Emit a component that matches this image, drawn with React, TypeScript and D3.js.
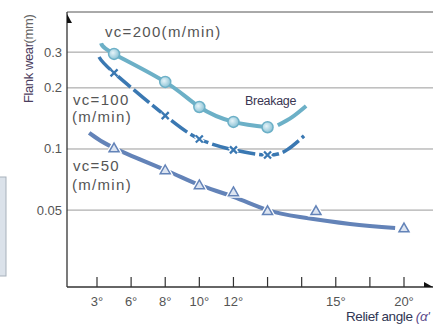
import React from 'react';
import * as d3 from 'd3';

// x positions are in tick-slot units (the chart's angle axis is not linear)
const xTickLabels = ['3°', '6°', '8°', '10°', '12°', '', '', '15°', '', '20°'];
const yTicks = [0.3, 0.2, 0.1, 0.05];

// vc=200 (m/min)
const v200MarkX = [0.5, 2, 3, 4, 5];
const v200MarkY = [0.294, 0.214, 0.161, 0.136, 0.128];
const v200LineX = [0.12, 0.5, 2, 3, 4, 5];
const v200LineY = [0.332, 0.294, 0.214, 0.161, 0.136, 0.128];
const v200BreakX = [5.3, 5.72, 6.13];
const v200BreakY = [0.131, 0.1437, 0.163];

// vc=100 (m/min)
const v100MarkX = [0.5, 2, 3, 4, 5];
const v100MarkY = [0.237, 0.146, 0.112, 0.099, 0.0934];
const v100LineX = [0.06, 0.5, 2, 3, 4, 5, 5.57, 6.07];
const v100LineY = [0.284, 0.237, 0.146, 0.112, 0.099, 0.0934, 0.099, 0.116];

// vc=50 (m/min)
const v50MarkX = [0.5, 2, 3, 4, 5, 6.42, 9];
const v50MarkY = [0.101, 0.0788, 0.0665, 0.0614, 0.0496, 0.0496, 0.0408];
const v50LineX = [-0.23, 0.5, 2, 3, 4, 5, 5.95, 7.42, 8.74];
const v50LineY = [0.12, 0.101, 0.0788, 0.0665, 0.0581, 0.05, 0.0462, 0.0427, 0.0408];

const W = 433;
const H = 326;
const left = 67;
const top = 12;
const bottom = 287;

const zip = (xs: number[], ys: number[]) => xs.map((x, i) => [x, ys[i]] as [number, number]);

export default function App() {
  const x = d3.scaleLinear().domain([0, 9]).range([97, 404]);
  const y = d3.scaleLog().domain([0.0209, 0.473]).range([bottom, top]);

  const line = d3
    .line<[number, number]>()
    .x(d => x(d[0]))
    .y(d => y(d[1]))
    .curve(d3.curveNatural);

  const c200 = '#6cb0c7';
  const c100 = '#3a78b2';
  const c50 = '#6383b8';
  const font = '"Liberation Sans", Arial, sans-serif';

  const tri = (cx: number, cy: number) => {
    const s = 5;
    return `M${cx},${cy - s}L${cx + s},${cy + s * 0.75}L${cx - s},${cy + s * 0.75}Z`;
  };

  return (
    <svg width={W} height={H} style={{ position: 'absolute', left: 0, top: 0, background: '#fff' }}>
      <defs>
        <radialGradient id="ball" cx="0.4" cy="0.4" r="0.6">
          <stop offset="0" stopColor="#e6f4f9" />
          <stop offset="1" stopColor="#8cc3d6" />
        </radialGradient>
      </defs>

      {/* side panel fragment */}
      <rect x={-2} y={177} width={8} height={99} fill="#dbe2ea" stroke="#a7b1bb" />

      {/* grid */}
      {yTicks.map(t => (
        <line key={t} x1={left} x2={W} y1={y(t)} y2={y(t)} stroke="#9a9a9a" strokeWidth={1} />
      ))}
      <line x1={left} x2={W} y1={top} y2={top} stroke="#555" strokeWidth={1} />

      {/* axes */}
      <line x1={left} x2={left} y1={top} y2={bottom} stroke="#333" strokeWidth={1.3} />
      <line x1={left} x2={W} y1={bottom} y2={bottom} stroke="#333" strokeWidth={1.3} />
      <path d={`M${left},${top + 2}L${left + 5},${top + 11}L${left},${top + 11}Z`} fill="#111" />
      <path d={`M${W - 9},${bottom - 5}L${W},${bottom}L${W - 9},${bottom}Z`} fill="#111" />

      {xTickLabels.map((t, i) => (
        <g key={i}>
          <line x1={x(i)} x2={x(i)} y1={bottom} y2={bottom - 10} stroke="#333" strokeWidth={1.2} />
          <text x={x(i)} y={306} textAnchor="middle" fontFamily={font} fontSize={13} fill="#555">
            {t}
          </text>
        </g>
      ))}
      {yTicks.map(t => (
        <text key={t} x={62} y={y(t) + 4.5} textAnchor="end" fontFamily={font} fontSize={13} fill="#555">
          {t}
        </text>
      ))}

      {/* curves */}
      <path d={line(zip(v50LineX, v50LineY)) || ''} fill="none" stroke={c50} strokeWidth={4} />
      <path d={line(zip(v100LineX, v100LineY)) || ''} fill="none" stroke={c100} strokeWidth={3.5} strokeDasharray="20,4" />
      <path d={line(zip(v200LineX, v200LineY)) || ''} fill="none" stroke={c200} strokeWidth={4} />
      <path d={line(zip(v200BreakX, v200BreakY)) || ''} fill="none" stroke={c200} strokeWidth={4} />

      {/* markers */}
      {zip(v50MarkX, v50MarkY).map((d, i) => (
        <g key={i}>
          <path d={tri(x(d[0]), y(d[1]))} fill="none" stroke="#fff" strokeWidth={4} />
          <path d={tri(x(d[0]), y(d[1]))} fill="#dce4f1" stroke={c50} strokeWidth={1.5} />
        </g>
      ))}
      {zip(v100MarkX, v100MarkY).map((d, i) => {
        const cx = x(d[0]);
        const cy = y(d[1]);
        const s = 3.5;
        return (
          <g key={i}>
            <path d={`M${cx - s},${cy - s}L${cx + s},${cy + s}M${cx + s},${cy - s}L${cx - s},${cy + s}`} stroke="#fff" strokeWidth={5} />
            <path d={`M${cx - s},${cy - s}L${cx + s},${cy + s}M${cx + s},${cy - s}L${cx - s},${cy + s}`} stroke={c100} strokeWidth={2.3} />
          </g>
        );
      })}
      {zip(v200MarkX, v200MarkY).map((d, i) => (
        <circle key={i} cx={x(d[0])} cy={y(d[1])} r={5.5} fill="url(#ball)" stroke={c200} strokeWidth={1.5} />
      ))}

      {/* labels */}
      <g fontFamily={font} fontSize={15} fill="#555">
        <text x={105} y={37} letterSpacing={1.3}>vc=200(m/min)</text>
        <text x={73} y={105} letterSpacing={1.3}>vc=100</text>
        <text x={72} y={122} letterSpacing={1.3}>(m/min)</text>
        <text x={73} y={171} letterSpacing={1.3}>vc=50</text>
        <text x={72} y={190} letterSpacing={1.3}>(m/min)</text>
      </g>
      <text x={245} y={105} fontFamily={font} fontSize={12.5} fill="#3a3652" letterSpacing={-0.3}>
        Breakage
      </text>

      <text transform="translate(33,103) rotate(-90)" fontFamily={font} fontSize={13} letterSpacing={-0.4}>
        <tspan fill="#4b3d5e">Flank wear</tspan>
        <tspan fill="#666">(mm)</tspan>
      </text>
      <text x={346} y={321} fontFamily={font} fontSize={13.5} letterSpacing={-0.4}>
        <tspan fill="#2f3654">Relief angle </tspan>
        <tspan fill="#5a4a8a" fontStyle="italic">(α'</tspan>
      </text>
    </svg>
  );
}
